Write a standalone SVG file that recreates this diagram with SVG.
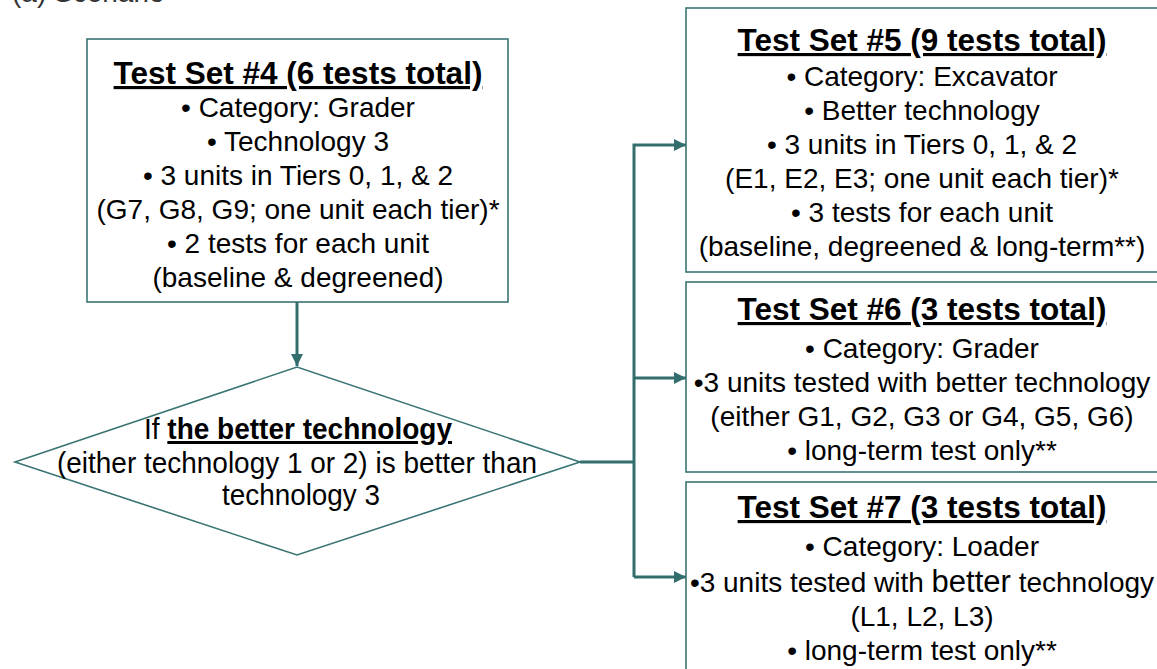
<svg xmlns="http://www.w3.org/2000/svg" width="1157" height="669" viewBox="0 0 1157 669">
<style>
.box{fill:#ffffff;stroke:#3a7474;stroke-width:1.6}
.t{font-family:"Liberation Sans",Arial,sans-serif;font-size:28px;fill:#000;text-anchor:middle}
.h{font-weight:bold;font-size:31.5px;text-decoration:underline}
.d{font-size:30px}
.c{fill:none;stroke:#336e6e;stroke-width:3}
</style>
<defs>
<marker id="ah" markerWidth="12" markerHeight="12" refX="12" refY="6" orient="auto" markerUnits="userSpaceOnUse">
<path d="M0,0 L12,6 L0,12 Z" fill="#336e6e"/>
</marker>
</defs>
<text x="12" y="1.5" style="font-family:'Liberation Sans',Arial,sans-serif;font-size:28px;fill:#333">(a) Scenario</text>
<g id="connectors">
<path class="c" d="M297,302 V366" marker-end="url(#ah)"/>
<path class="c" d="M580,462 H634"/>
<path class="c" d="M634,577 V145 H686" marker-end="url(#ah)"/>
<path class="c" d="M634,378 H686" marker-end="url(#ah)"/>
<path class="c" d="M634,577 H686" marker-end="url(#ah)"/>
</g>
<g id="set4">
<rect class="box" x="87" y="39" width="421" height="263"/>
<text class="t h" x="298" y="84">Test Set #4 (6 tests total)</text>
<text class="t" x="298" y="117">• Category: Grader</text>
<text class="t" x="298" y="151">• Technology 3</text>
<text class="t" x="298" y="185">• 3 units in Tiers 0, 1, &amp; 2</text>
<text class="t" x="298" y="219">(G7, G8, G9; one unit each tier)*</text>
<text class="t" x="298" y="253">• 2 tests for each unit</text>
<text class="t" x="298" y="287">(baseline &amp; degreened)</text>
</g>
<g id="decision">
<polygon class="box" points="15,462 297,367 580,462 297,555"/>
<text class="t d" x="298" y="439" textLength="308" lengthAdjust="spacingAndGlyphs">If <tspan font-weight="bold" text-decoration="underline">the better technology</tspan></text>
<text class="t d" x="297" y="473" textLength="480" lengthAdjust="spacingAndGlyphs">(either technology 1 or 2) is better than</text>
<text class="t d" x="301" y="505" textLength="158" lengthAdjust="spacingAndGlyphs">technology 3</text>
</g>
<g id="set5">
<rect class="box" x="686" y="8" width="480" height="264"/>
<text class="t h" x="922" y="51">Test Set #5 (9 tests total)</text>
<text class="t" x="922" y="86">• Category: Excavator</text>
<text class="t" x="922" y="120">• Better technology</text>
<text class="t" x="922" y="154">• 3 units in Tiers 0, 1, &amp; 2</text>
<text class="t" x="922" y="188">(E1, E2, E3; one unit each tier)*</text>
<text class="t" x="922" y="222">• 3 tests for each unit</text>
<text class="t" x="922" y="256">(baseline, degreened &amp; long-term**)</text>
</g>
<g id="set6">
<rect class="box" x="686" y="282" width="480" height="190"/>
<text class="t h" x="922" y="320">Test Set #6 (3 tests total)</text>
<text class="t" x="922" y="358">• Category: Grader</text>
<text class="t" x="922" y="392">•3 units tested with better technology</text>
<text class="t" x="922" y="426">(either G1, G2, G3 or G4, G5, G6)</text>
<text class="t" x="922" y="460">• long-term test only**</text>
</g>
<g id="set7">
<rect class="box" x="686" y="482" width="480" height="200"/>
<text class="t h" x="922" y="518">Test Set #7 (3 tests total)</text>
<text class="t" x="922" y="556">• Category: Loader</text>
<text class="t" x="922" y="592">•3 units tested with <tspan font-size="31">better</tspan> technology</text>
<text class="t" x="922" y="626">(L1, L2, L3)</text>
<text class="t" x="922" y="660">• long-term test only**</text>
</g>
</svg>
